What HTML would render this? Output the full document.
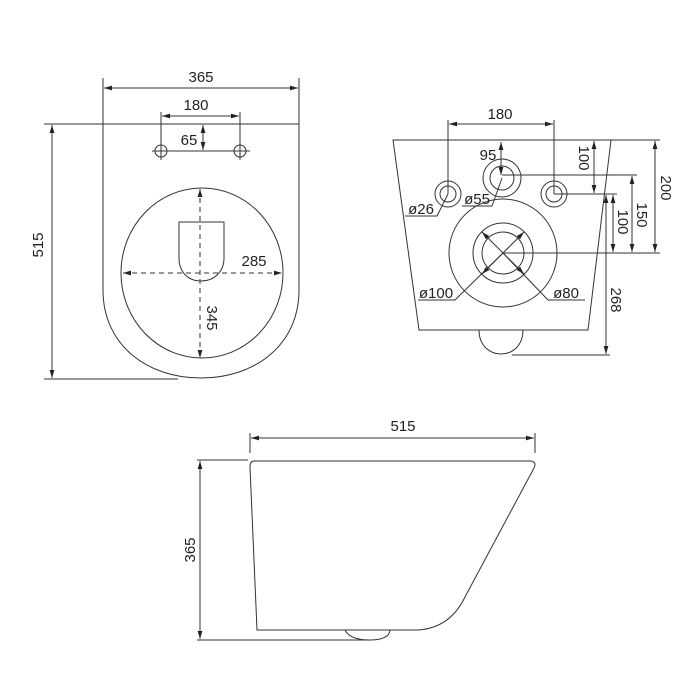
<!DOCTYPE html>
<html><head><style>body{margin:0;background:#fff}svg{display:block}</style></head><body>
<svg width="700" height="700" viewBox="0 0 700 700" xmlns="http://www.w3.org/2000/svg" font-family="Liberation Sans, sans-serif" font-size="15" fill="none" stroke="#333" stroke-width="1">
<defs>
<marker id="a" viewBox="0 0 10 6" refX="10" refY="3" markerWidth="8" markerHeight="5" orient="auto-start-reverse"><path d="M0,0L10,3L0,6Z" fill="#222" stroke="none"/></marker>
</defs>
<!-- TOP VIEW -->
<path d="M103,124 L299,124 L299,290 C299,345 255,378 201,378 C147,378 103,345 103,290 Z"/>
<line x1="103" y1="78" x2="103" y2="124"/><line x1="299" y1="78" x2="299" y2="124"/>
<line x1="104" y1="88" x2="298" y2="88" marker-start="url(#a)" marker-end="url(#a)"/>
<line x1="161" y1="112" x2="161" y2="160"/><line x1="240" y1="112" x2="240" y2="160"/>
<line x1="162" y1="116" x2="239" y2="116" marker-start="url(#a)" marker-end="url(#a)"/>
<circle cx="161" cy="151" r="6"/><circle cx="240" cy="151" r="6"/>
<line x1="152" y1="151" x2="250" y2="151"/>
<line x1="203" y1="125" x2="203" y2="150" marker-start="url(#a)" marker-end="url(#a)"/>
<ellipse cx="202" cy="273" rx="81" ry="85"/>
<path d="M179,222 L224,222 L224,258 C224,272 214,281 201,281 C188,281 179,272 179,258 Z"/>
<line x1="200" y1="189" x2="200" y2="358" stroke-dasharray="5,4" marker-start="url(#a)" marker-end="url(#a)"/>
<line x1="123" y1="273" x2="282" y2="273" stroke-dasharray="5,4" marker-start="url(#a)" marker-end="url(#a)"/>
<line x1="44" y1="124" x2="103" y2="124"/><line x1="44" y1="379" x2="178" y2="379"/>
<line x1="52" y1="125" x2="52" y2="378" marker-start="url(#a)" marker-end="url(#a)"/>
<g fill="#222" stroke="none" text-anchor="middle">
<text x="201" y="82">365</text><text x="196" y="110">180</text><text x="189" y="145">65</text>
<text x="254" y="266">285</text>
<text transform="translate(207,318) rotate(90)">345</text>
<text transform="translate(43,245) rotate(-90)">515</text>
</g>
<!-- FRONT VIEW -->
<path d="M393,140 L611,140 L588,330 L419,330 Z"/>
<path d="M479,330 C479,362 523,362 523,330"/>
<circle cx="448" cy="194" r="13"/><circle cx="448" cy="194" r="8"/>
<circle cx="502" cy="178" r="19"/><circle cx="502" cy="178" r="12"/>
<circle cx="554" cy="194" r="13"/><circle cx="554" cy="194" r="8"/>
<circle cx="503" cy="253" r="54"/><circle cx="503" cy="253" r="30"/><circle cx="503" cy="253" r="21"/>
<line x1="448" y1="120" x2="448" y2="194"/><line x1="554" y1="120" x2="554" y2="194"/>
<line x1="449" y1="124" x2="553" y2="124" marker-start="url(#a)" marker-end="url(#a)"/>
<line x1="501" y1="142" x2="501" y2="175" marker-start="url(#a)" marker-end="url(#a)"/>
<line x1="482" y1="232" x2="524" y2="274" marker-start="url(#a)" marker-end="url(#a)"/>
<line x1="524" y1="232" x2="482" y2="274" marker-start="url(#a)" marker-end="url(#a)"/>
<path d="M418,300 L455,300 L503,253"/><path d="M585,300 L548,300 L503,253"/>
<path d="M405,216 L437,216 L448,194"/><path d="M462,206 L492,206 L502,178"/>
<line x1="611" y1="140" x2="660" y2="140"/><line x1="502" y1="175" x2="637" y2="175"/>
<line x1="554" y1="194" x2="617" y2="194"/><line x1="503" y1="253" x2="660" y2="253"/>
<line x1="512" y1="355" x2="610" y2="355"/>
<line x1="594" y1="141" x2="594" y2="193" marker-start="url(#a)" marker-end="url(#a)"/>
<line x1="613" y1="195" x2="613" y2="252" marker-start="url(#a)" marker-end="url(#a)"/>
<line x1="632" y1="176" x2="632" y2="252" marker-start="url(#a)" marker-end="url(#a)"/>
<line x1="655" y1="141" x2="655" y2="252" marker-start="url(#a)" marker-end="url(#a)"/>
<line x1="606" y1="195" x2="606" y2="354" marker-start="url(#a)" marker-end="url(#a)"/>
<g fill="#222" stroke="none" text-anchor="middle">
<text x="500" y="119">180</text><text x="488" y="160">95</text>
<text x="421" y="214">ø26</text><text x="477" y="204">ø55</text>
<text x="436" y="298">ø100</text><text x="566" y="298">ø80</text>
<text transform="translate(579,158) rotate(90)">100</text>
<text transform="translate(618,222) rotate(90)">100</text>
<text transform="translate(637,215) rotate(90)">150</text>
<text transform="translate(661,188) rotate(90)">200</text>
<text transform="translate(611,300) rotate(90)">268</text>
</g>
<!-- SIDE VIEW -->
<path d="M254,461 L531,461 Q537,462 534,468 L465,597 Q450,628 418,630 L257,630 L250,467 Q250,461 254,461 Z"/>
<path d="M345,630 Q350,640 370,640 Q389,640 390,630"/>
<line x1="250" y1="433" x2="250" y2="453"/><line x1="535" y1="433" x2="535" y2="453"/>
<line x1="251" y1="438" x2="534" y2="438" marker-start="url(#a)" marker-end="url(#a)"/>
<line x1="197" y1="460" x2="248" y2="460"/><line x1="197" y1="640" x2="370" y2="640"/>
<line x1="200" y1="461" x2="200" y2="639" marker-start="url(#a)" marker-end="url(#a)"/>
<g fill="#222" stroke="none" text-anchor="middle">
<text x="403" y="431">515</text>
<text transform="translate(195,550) rotate(-90)">365</text>
</g>
</svg>
</body></html>
